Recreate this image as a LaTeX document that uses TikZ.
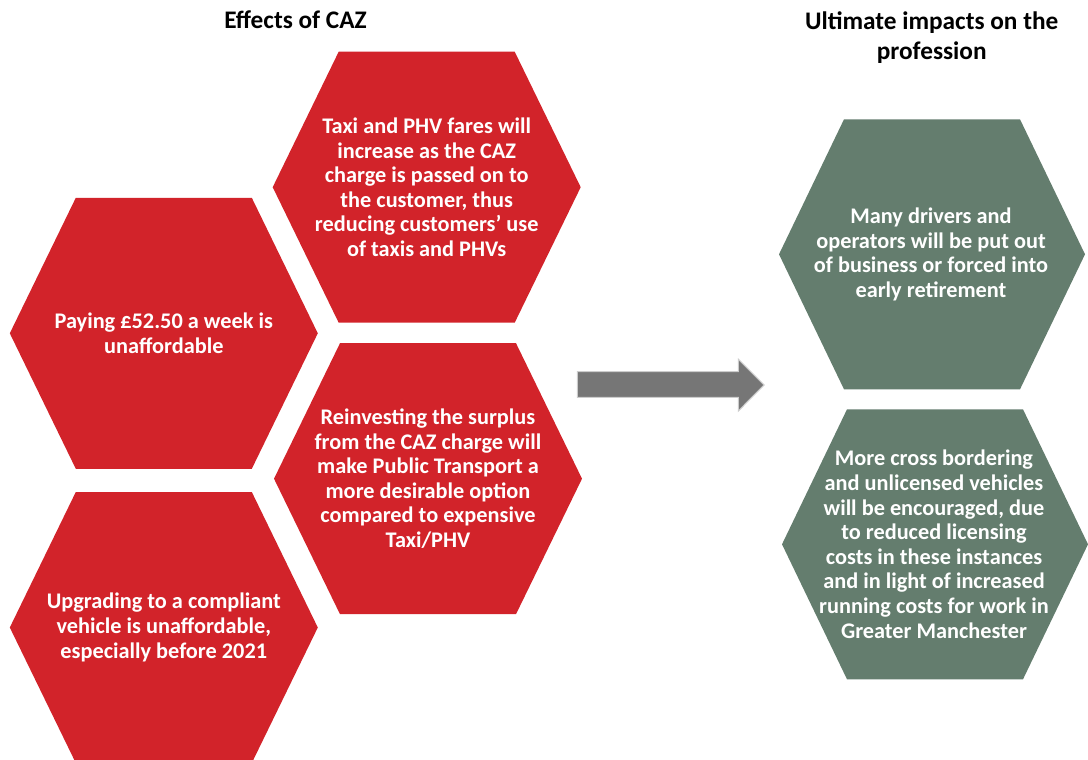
\documentclass[tikz,border=0pt]{standalone}
\usepackage{fontspec}
\setmainfont{Carlito}
\usepackage{tikz}

\definecolor{cazred}{RGB}{210,35,42}
\definecolor{impactgreen}{RGB}{100,125,110}
\definecolor{arrowgray}{RGB}{118,118,118}

\tikzset{
    effect/.style={fill=cazred},
    impact/.style={fill=impactgreen},
    celltext/.style={text=white, align=center, font=\fontsize{12.7}{14}\selectfont\bfseries},
    heading/.style={text=black, align=center, font=\fontsize{14.4}{17.5}\selectfont\bfseries}
}

\begin{document}
\begin{tikzpicture}[x=0.02cm, y=-0.02cm]
        \useasboundingbox (0,0) rectangle (1088,760);

        \coordinate (c1) at (426.7,187.2);
        \coordinate (c2) at (163.8,333.3);
        \coordinate (c3) at (428,478.7);
        \coordinate (c4) at (163.8,627.5);
        \coordinate (c5) at (931,254.3);
        \coordinate (c6) at (934,544.3);

        \node[heading, anchor=base] (effects) at (295.5,28.5) {Effects of CAZ};
        \node[heading, anchor=base] (ultimate) at (931.7,60) {Ultimate impacts on the\\profession};

        %%%%%%%%%%%%%%%%%%%%%%%%%%%%%%
        \fill[effect] (c1) ++(-154,0) -- ++(66,-135.5) -- ++(176,0) -- ++(66,135.5) -- ++(-66,135.5) -- ++(-176,0) -- cycle;
        \fill[effect] (c2) ++(-154,0) -- ++(66,-135.5) -- ++(176,0) -- ++(66,135.5) -- ++(-66,135.5) -- ++(-176,0) -- cycle;
        \fill[effect] (c3) ++(-154,0) -- ++(66,-135.5) -- ++(176,0) -- ++(66,135.5) -- ++(-66,135.5) -- ++(-176,0) -- cycle;
        \fill[effect] (c4) ++(-154,0) -- ++(66,-135.5) -- ++(176,0) -- ++(66,135.5) -- ++(-66,135.5) -- ++(-176,0) -- cycle;

        \node[celltext] (taxi) at (c1) {Taxi and PHV fares will\\increase as the CAZ\\charge is passed on to\\the customer, thus\\reducing customers’ use\\of taxis and PHVs};
        \node[celltext] (paying) at (c2) {Paying £52.50 a week is\\unaffordable};
        \node[celltext] (reinvest) at (c3) {Reinvesting the surplus\\from the CAZ charge will\\make Public Transport a\\more desirable option\\compared to expensive\\Taxi/PHV};
        \node[celltext] (upgrade) at (c4) {Upgrading to a compliant\\vehicle is unaffordable,\\especially before 2021};

        %%%%%%%%%%%%%%%%%%%%%%%%%%%%%%
        \filldraw[arrowgray, draw=black!20, line width=0.6pt] (577.3,371.7) -- (738.3,371.7) -- (738.3,359.3) -- (764,385)
        -- (738.3,411) -- (738.3,397.3) -- (577.3,397.3) -- cycle;

        %%%%%%%%%%%%%%%%%%%%%%%%%%%%%%
        \fill[impact] (c5) ++(-152,0) -- ++(65,-135) -- ++(176,0) -- ++(65,135) -- ++(-65,135) -- ++(-176,0) -- cycle;
        \fill[impact] (c6) ++(-152,0) -- ++(65,-135) -- ++(176,0) -- ++(65,135) -- ++(-65,135) -- ++(-176,0) -- cycle;

        \node[celltext] (business) at (c5) {Many drivers and\\operators will be put out\\of business or forced into\\early retirement};
        \node[celltext] (border) at (c6) {More cross bordering\\and unlicensed vehicles\\will be encouraged, due\\to reduced licensing\\costs in these instances\\and in light of increased\\running costs for work in\\Greater Manchester};
    \end{tikzpicture}
\end{document}
